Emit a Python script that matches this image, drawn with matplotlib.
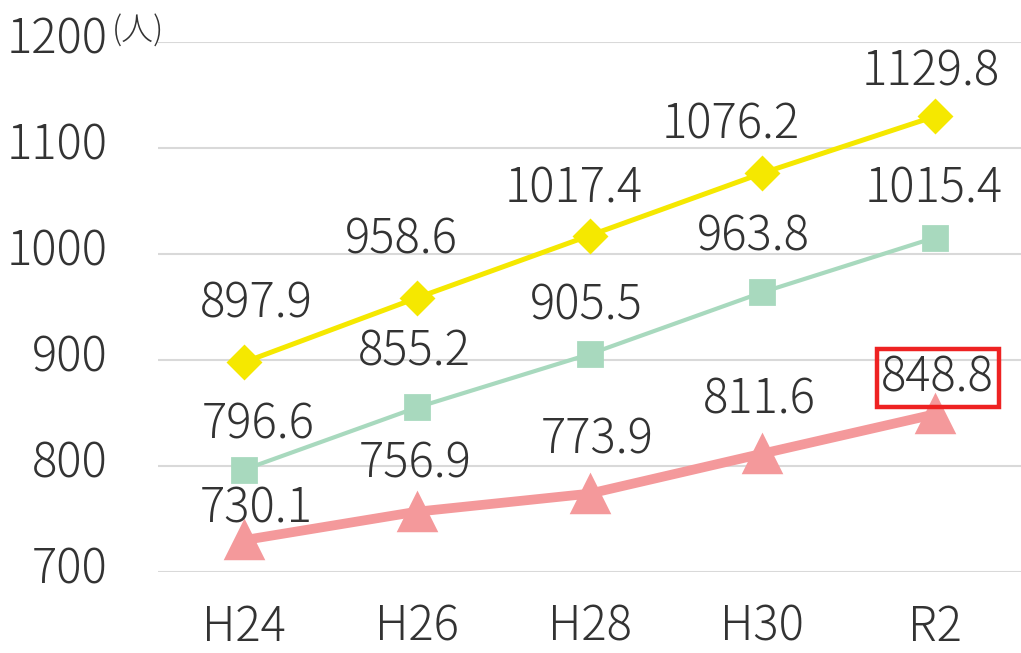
import matplotlib
matplotlib.use("Agg")
import matplotlib.pyplot as plt
from matplotlib.transforms import ScaledTranslation

plt.rcParams['font.family'] = ['Noto Sans CJK JP', 'DejaVu Sans']

# data
years = ['H24', 'H26', 'H28', 'H30', 'R2']
yellowValues = [897.9, 958.6, 1017.4, 1076.2, 1129.8]
greenValues = [796.6, 855.2, 905.5, 963.8, 1015.4]
pinkValues = [730.1, 756.9, 773.9, 811.6, 848.8]
yTicks = [700, 800, 900, 1000, 1100, 1200]
unitLabel = '(人)'

# label offsets in pixels (dx, dy to baseline)
yellowOffsets = [(12, 45), (-16, 44), (-16, 33), (-31, 35), (-4, 31)]
greenOffsets = [(14, 31), (-3, 42), (-3, 35), (-9, 42), (-1, 35)]
pinkOffsets = [(12, 18), (-2, 34), (8, 40), (-3, 40), (3, 23)]

textColor = '#333333'
fontSize = 34
weight = 200

fig = plt.figure(figsize=(10.21, 6.53), dpi=100)
ax = fig.add_axes([158 / 1021, 81 / 653, 1 - 158 / 1021, 530 / 653])

x = range(len(years))

ax.plot(x, yellowValues, color='#F5E800', lw=3.6, marker='D', ms=16,
        markeredgecolor='#F5E800', markeredgewidth=2, solid_joinstyle='round', zorder=3)
ax.plot(x, greenValues, color='#A8D9BE', lw=3.0, marker='s', ms=17,
        markeredgecolor='#A8D9BE', markeredgewidth=2, zorder=3)
ax.plot(x, pinkValues, color='#F4999B', lw=7, marker='^', ms=26,
        markeredgecolor='#F4999B', markeredgewidth=2.5, solid_capstyle='round', zorder=3)

def labelSeries(values, offsets, boxLast=False):
    for i, (v, off) in enumerate(zip(values, offsets)):
        kw = {}
        if boxLast and i == len(values) - 1:
            kw['bbox'] = dict(boxstyle='square,pad=0.1', fc='none', ec='#EE2222', lw=3.2)
        ax.annotate('%.1f' % v, (i, v), xytext=off, textcoords='offset pixels',
                    ha='center', va='baseline', fontsize=fontSize, color=textColor,
                    fontweight=weight, zorder=5, **kw)

labelSeries(yellowValues, yellowOffsets)
labelSeries(greenValues, greenOffsets)
labelSeries(pinkValues, pinkOffsets, boxLast=True)

ax.set_xlim(-0.5, len(years) - 0.5)
ax.set_ylim(700, 1200)
ax.set_xticks(list(x))
ax.set_xticklabels(years)
ax.set_yticks(yTicks)
ax.tick_params(axis='both', length=0, labelsize=fontSize, labelcolor=textColor)
ax.tick_params(axis='y', pad=36)
ax.tick_params(axis='x', pad=22)
shiftUp = ScaledTranslation(0, 8 / 100, fig.dpi_scale_trans)
for lab in ax.get_yticklabels():
    lab.set_transform(lab.get_transform() + shiftUp)
for lab in ax.get_xticklabels() + ax.get_yticklabels():
    lab.set_fontweight(weight)

ax.grid(axis='y', color='#D9D9D9', lw=1.5)
ax.set_axisbelow(True)
for s in ax.spines.values():
    s.set_visible(False)

fig.text(112 / 1021, 1 - 31 / 653, unitLabel, fontsize=23, color=textColor,
         ha='left', va='center', fontweight=weight)

fig.savefig('out.png', dpi=100)
